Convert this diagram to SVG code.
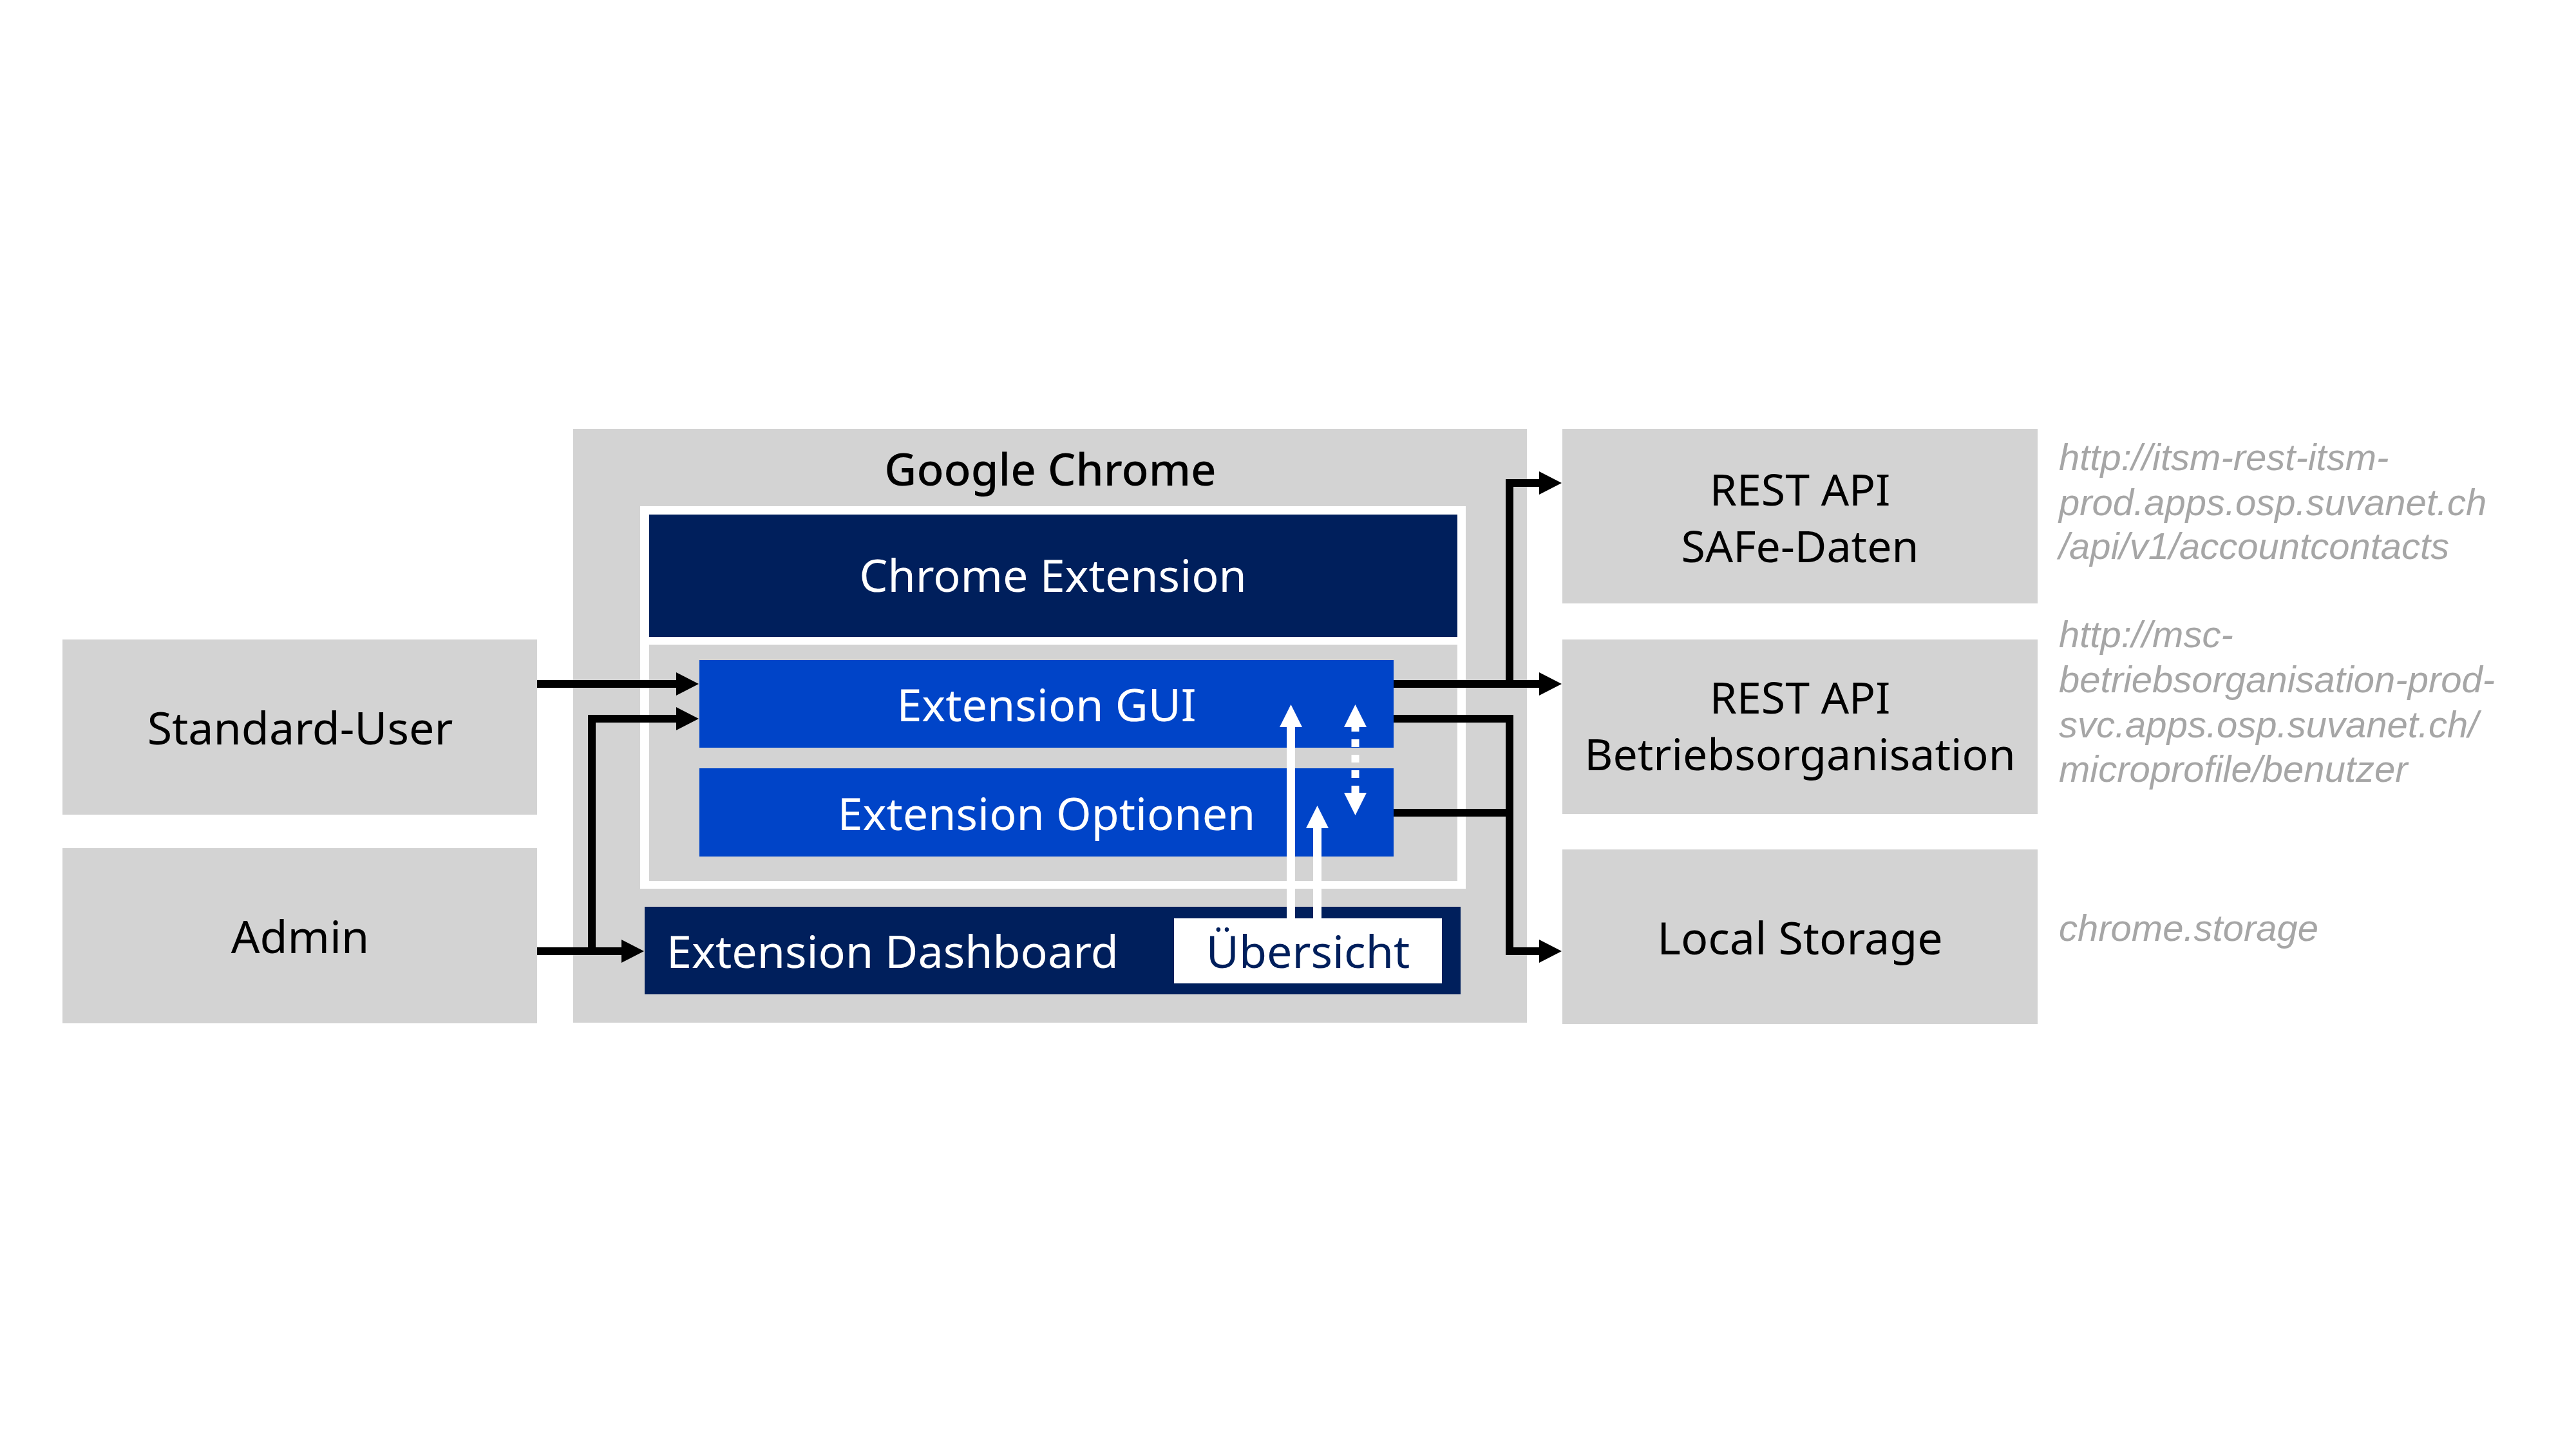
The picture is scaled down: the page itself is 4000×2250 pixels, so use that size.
<svg xmlns="http://www.w3.org/2000/svg" width="4000" height="2250" viewBox="0 0 4000 2250">
<style>
.box{fill:#d3d3d3}
.navy{fill:#001f5c}
.blue{fill:#0044c8}
.t{font-family:"Noto Sans","Open Sans","DejaVu Sans",sans-serif;font-size:70px;fill:#000}
.r{font-size:68px}
.w{fill:#fff}
.c{text-anchor:middle}
.url{font-family:"Liberation Sans","Noto Sans",sans-serif;font-size:58px;font-style:italic;fill:#a6a6a6}
.conn{fill:none;stroke:#000;stroke-width:12;stroke-linejoin:miter}
</style>
<defs>
<marker id="ah" markerUnits="userSpaceOnUse" markerWidth="36" markerHeight="38" refX="0" refY="18" orient="auto" viewBox="0 0 36 36">
<path d="M0,0 L35,18 L0,36 Z" fill="#000"/>
</marker>
</defs>
<rect width="4000" height="2250" fill="#fff"/>

<g id="standard-user">
<rect class="box" x="97" y="993" width="737" height="272"/>
<text class="t c" x="466" y="1156">Standard-User</text>
</g>
<g id="admin">
<rect class="box" x="97" y="1317" width="737" height="272"/>
<text class="t c" x="466" y="1480">Admin</text>
</g>

<g id="google-chrome">
<rect class="box" x="890" y="666" width="1481" height="922"/>
<text class="t c" x="1631" y="754" style="font-size:69px;font-weight:500">Google Chrome</text>
</g>
<g id="chrome-extension">
<rect x="994" y="786" width="1282" height="594" fill="#fff"/>
<rect class="navy" x="1008" y="799" width="1255" height="190"/>
<rect class="box" x="1008" y="1001" width="1255" height="367"/>
<text class="t c w" x="1635" y="919">Chrome Extension</text>
</g>
<g id="extension-gui">
<rect class="blue" x="1086" y="1025" width="1078" height="136"/>
<text class="t c w" x="1625" y="1120">Extension GUI</text>
</g>
<g id="extension-optionen">
<rect class="blue" x="1086" y="1193" width="1078" height="137"/>
<text class="t c w" x="1625" y="1289">Extension Optionen</text>
</g>
<g id="extension-dashboard">
<rect class="navy" x="1001" y="1408" width="1267" height="136"/>
<text class="t w" x="1035" y="1503">Extension Dashboard</text>
</g>
<g id="uebersicht">
<rect x="1823" y="1426" width="416" height="101" fill="#fff"/>
<text class="t c" x="2031" y="1503" style="fill:#001f5c">Übersicht</text>
</g>

<g id="rest-safe">
<rect class="box" x="2426" y="666" width="738" height="271"/>
<text class="t r c" x="2795" y="785">REST API</text>
<text class="t r c" x="2795" y="873">SAFe-Daten</text>
</g>
<g id="rest-betrieb">
<rect class="box" x="2426" y="993" width="738" height="271"/>
<text class="t r c" x="2795" y="1108">REST API</text>
<text class="t r c" x="2795" y="1196">Betriebsorganisation</text>
</g>
<g id="local-storage">
<rect class="box" x="2426" y="1319" width="738" height="271"/>
<text class="t c" x="2795" y="1482">Local Storage</text>
</g>

<g id="urls">
<text class="url" x="3197" y="730">http://itsm-rest-itsm-</text>
<text class="url" x="3197" y="800">prod.apps.osp.suvanet.ch</text>
<text class="url" x="3197" y="868">/api/v1/accountcontacts</text>
<text class="url" x="3197" y="1005">http://msc-</text>
<text class="url" x="3197" y="1075">betriebsorganisation-prod-</text>
<text class="url" x="3197" y="1145">svc.apps.osp.suvanet.ch/</text>
<text class="url" x="3197" y="1214">microprofile/benutzer</text>
<text class="url" x="3197" y="1461">chrome.storage</text>
</g>

<g id="connectors">
<path class="conn" d="M834,1062 H1050" marker-end="url(#ah)"/>
<path class="conn" d="M834,1477 H965" marker-end="url(#ah)"/>
<path class="conn" d="M919,1483 V1116 H1050" marker-end="url(#ah)"/>
<path class="conn" d="M2164,1062 H2390" marker-end="url(#ah)"/>
<path class="conn" d="M2344,1068 V750 H2390" marker-end="url(#ah)"/>
<path class="conn" d="M2164,1116 H2344 V1477 H2390" marker-end="url(#ah)"/>
<path class="conn" d="M2164,1262 H2344"/>
<g id="internal-arrows" fill="#fff">
<rect x="1998" y="1127" width="13" height="299"/>
<polygon points="1987,1129 2022,1129 2004.5,1094"/>
<rect x="2039" y="1284" width="13" height="142"/>
<polygon points="2028,1286 2063,1286 2045.5,1251"/>
<line x1="2104.5" y1="1124" x2="2104.5" y2="1232" stroke="#fff" stroke-width="12" stroke-dasharray="12 12"/>
<polygon points="2087,1129 2122,1129 2104.5,1094"/>
<polygon points="2087,1231 2122,1231 2104.5,1266"/>
</g>
</g>
</svg>
